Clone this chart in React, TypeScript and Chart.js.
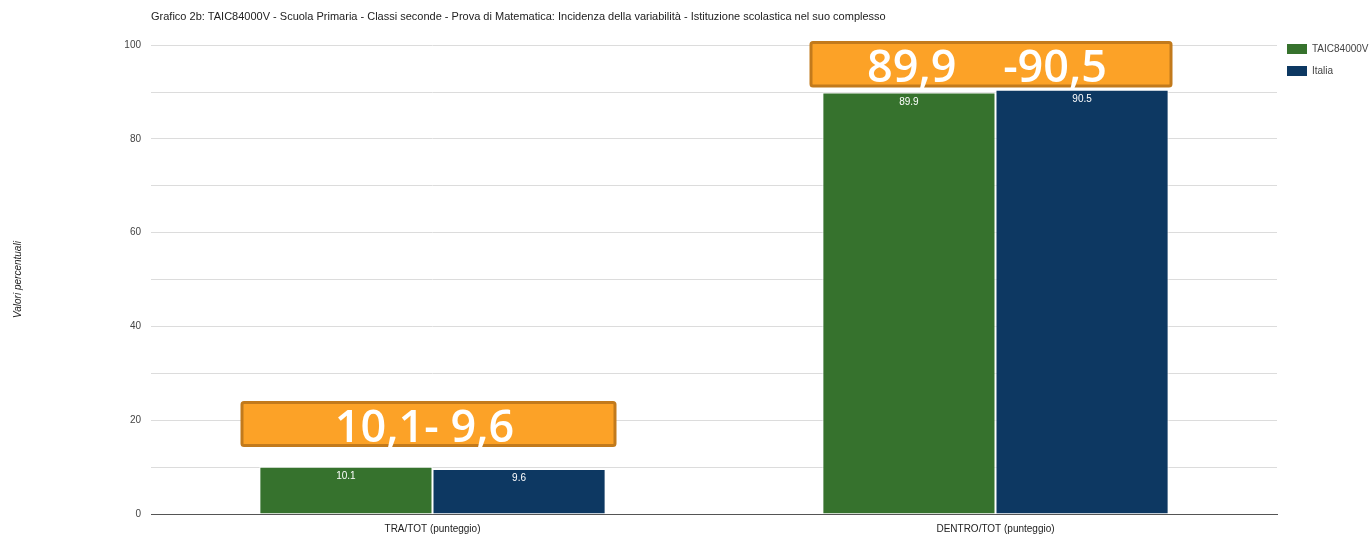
import React, { useEffect, useRef } from "react";
import { Chart, registerables } from "chart.js";

Chart.register(...registerables);

const TITLE =
  "Grafico 2b: TAIC84000V - Scuola Primaria - Classi seconde - Prova di Matematica: Incidenza della variabilità - Istituzione scolastica nel suo complesso";
const Y_TITLE = "Valori percentuali";
const categories = ["TRA/TOT (punteggio)", "DENTRO/TOT (punteggio)"];
const seriesNames = ["TAIC84000V", "Italia"];
const schoolValues = [10.1, 89.9];
const italiaValues = [9.6, 90.5];
const calloutTexts = ["10,1- 9,6", "89,9    -90,5"];

const GREEN = "#36722D";
const BLUE = "#0D3862";
const FONT = "'Liberation Sans', Arial, sans-serif";

// Callout box placement (category index, value range, pixel offsets around category centre)
const calloutLayout = [
  { index: 0, yTop: 24.1, yBottom: 14.3, left: -192, right: 184 },
  { index: 1, yTop: 100.9, yBottom: 91.0, left: -186, right: 177 },
];

const valueLabelPlugin = {
  id: "valueLabels",
  afterDatasetsDraw(chart: any) {
    const ctx = chart.ctx;
    ctx.save();
    ctx.font = `10px ${FONT}`;
    ctx.fillStyle = "#ffffff";
    ctx.textAlign = "center";
    ctx.textBaseline = "middle";
    chart.data.datasets.forEach((ds: any, di: number) => {
      const meta = chart.getDatasetMeta(di);
      meta.data.forEach((bar: any, i: number) => {
        ctx.fillText(String(ds.data[i]), bar.x, bar.y + 9.5);
      });
    });
    ctx.restore();
  },
};

const legendPlugin = {
  id: "customLegend",
  afterDraw(chart: any) {
    const ctx = chart.ctx;
    const x = chart.chartArea.right + 10;
    ctx.save();
    ctx.font = `10px ${FONT}`;
    ctx.textBaseline = "middle";
    ctx.textAlign = "left";
    chart.data.datasets.forEach((ds: any, i: number) => {
      const y = 44 + i * 22;
      ctx.fillStyle = ds.backgroundColor;
      ctx.fillRect(x, y, 20, 10);
      ctx.fillStyle = "#444444";
      ctx.fillText(ds.label, x + 25, y + 5);
    });
    ctx.restore();
  },
};

const calloutPlugin = {
  id: "callouts",
  afterDraw(chart: any) {
    const ctx = chart.ctx;
    const xs = chart.scales.x;
    const ys = chart.scales.y;
    ctx.save();
    calloutLayout.forEach((c, i) => {
      const cx = xs.getPixelForValue(c.index);
      const x0 = cx + c.left;
      const x1 = cx + c.right;
      const y0 = ys.getPixelForValue(c.yTop);
      const y1 = ys.getPixelForValue(c.yBottom);
      ctx.beginPath();
      ctx.roundRect(x0 + 1.5, y0 + 1.5, x1 - x0 - 3, y1 - y0 - 3, 2);
      ctx.fillStyle = "#FCA227";
      ctx.fill();
      ctx.lineWidth = 3;
      ctx.strokeStyle = "#C27A1C";
      ctx.stroke();
      ctx.font = `600 45px 'Open Sans', sans-serif`;
      ctx.fillStyle = "#ffffff";
      ctx.textAlign = "center";
      ctx.textBaseline = "alphabetic";
      ctx.fillText(calloutTexts[i], (x0 + x1) / 2 - 4, y1 - 5);
    });
    ctx.restore();
  },
};

export default function App() {
  const ref = useRef<HTMLCanvasElement | null>(null);
  useEffect(() => {
    if (!ref.current) return;
    const chart = new Chart(ref.current, {
      type: "bar",
      data: {
        labels: categories,
        datasets: [
          {
            label: seriesNames[0],
            data: schoolValues,
            backgroundColor: GREEN,
            borderColor: "#ffffff",
            borderWidth: 1,
            categoryPercentage: 0.615,
            barPercentage: 1,
          },
          {
            label: seriesNames[1],
            data: italiaValues,
            backgroundColor: BLUE,
            borderColor: "#ffffff",
            borderWidth: 1,
            categoryPercentage: 0.615,
            barPercentage: 1,
          },
        ],
      },
      options: {
        animation: false,
        responsive: false,
        maintainAspectRatio: false,
        layout: { padding: { top: 0, right: 94, bottom: 0, left: 0 } },
        plugins: {
          legend: { display: false },
          tooltip: { enabled: false },
          title: {
            display: true,
            text: TITLE,
            align: "start",
            fullSize: false,
            color: "#222222",
            font: { family: FONT, size: 11, weight: "normal" },
            padding: { top: 10, bottom: 22 },
          },
        },
        scales: {
          x: {
            grid: { display: false, drawTicks: false },
            border: { display: true, color: "#555555", width: 1 },
            ticks: { color: "#222222", font: { family: FONT, size: 10 }, padding: 9 },
            afterFit(scale: any) {
              scale.height = 22;
            },
          },
          y: {
            min: 0,
            max: 100,
            border: { display: false },
            grid: {
              drawTicks: false,
              color: (c: any) => (c.tick && c.tick.value === 0 ? "#555555" : "#dcdcdc"),
            },
            ticks: {
              stepSize: 10,
              padding: 10,
              color: "#444444",
              font: { family: FONT, size: 10 },
              callback: (v: any) => (Number(v) % 20 === 0 ? String(v) : ""),
            },
            title: {
              display: true,
              text: Y_TITLE,
              color: "#222222",
              font: { family: FONT, size: 10, style: "italic" },
              padding: { top: 12, bottom: 0 },
            },
            afterFit(scale: any) {
              scale.width = 151;
            },
          },
        },
      },
      plugins: [valueLabelPlugin, legendPlugin, calloutPlugin],
    });
    return () => chart.destroy();
  }, []);
  return (
    <div style={{ position: "fixed", left: 0, top: 0, width: 1371, height: 536, background: "#ffffff" }}>
      <canvas ref={ref} width={1371} height={536} style={{ display: "block" }} />
    </div>
  );
}
